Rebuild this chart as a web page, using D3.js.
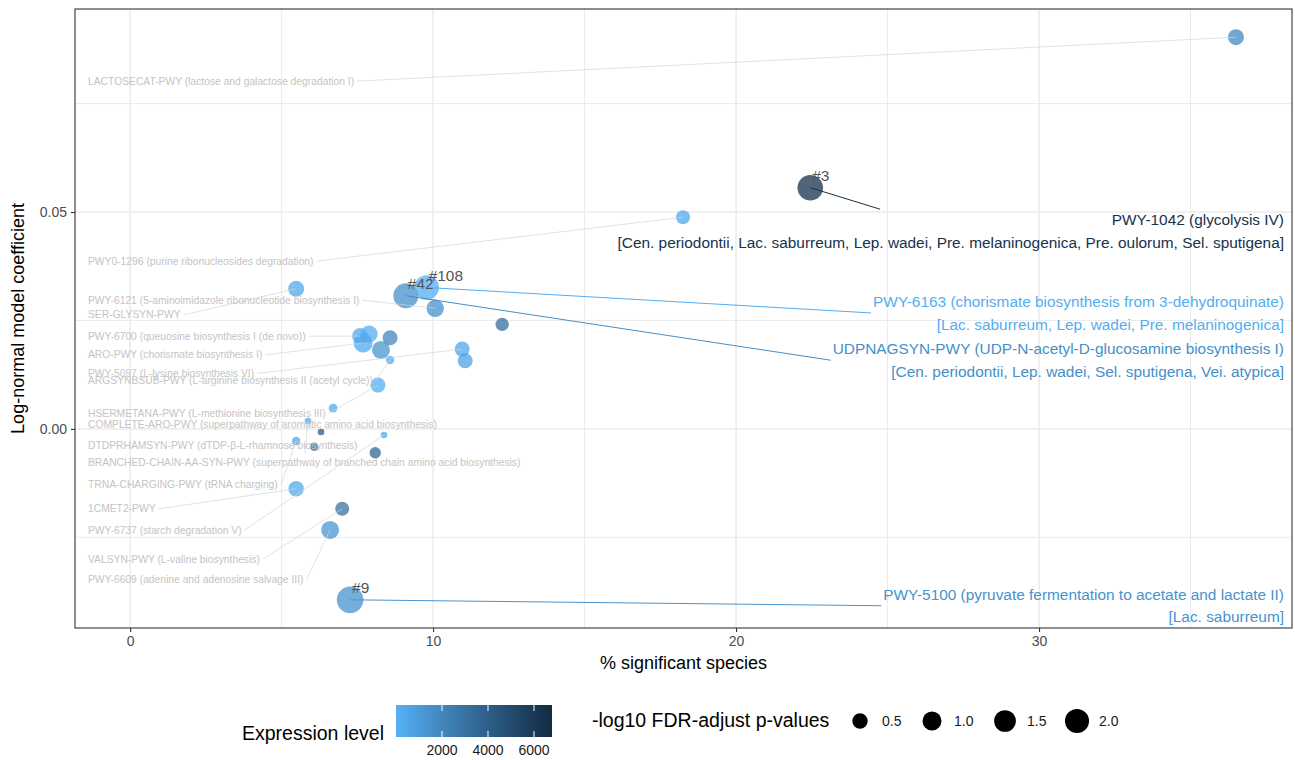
<!DOCTYPE html>
<html lang="en">
<head>
<meta charset="UTF-8">
<title>Pathway coefficients vs % significant species</title>
<script src="https://cdn.jsdelivr.net/npm/d3@7"></script>
<style>
  body { margin: 0; background: #fff; }
  svg { font-family: "Liberation Sans", Arial, Helvetica, sans-serif; }
</style>
</head>
<body>
<svg id="chart" width="1295" height="760"></svg>
<script>
// one entry per pathway (empty name = point without a label)
const pathway = ["LACTOSECAT-PWY", "PWY-1042", "PWY0-1296", "SER-GLYSYN-PWY", "UDPNAGSYN-PWY",
  "PWY-6163", "PWY-6121", "", "PWY-6700", "", "ARO-PWY", "", "", "ARGSYNBSUB-PWY", "PWY-5097", "",
  "HSERMETANA-PWY", "COMPLETE-ARO-PWY", "BRANCHED-CHAIN-AA-SYN-PWY", "", "TRNA-CHARGING-PWY",
  "DTDPRHAMSYN-PWY", "PWY-6737", "", "1CMET2-PWY", "VALSYN-PWY", "PWY-6609", "PWY-5100"];
const description = ["lactose and galactose degradation I", "glycolysis IV", "purine ribonucleosides degradation", "",
  "UDP-N-acetyl-D-glucosamine biosynthesis I", "chorismate biosynthesis from 3-dehydroquinate",
  "5-aminoimidazole ribonucleotide biosynthesis I", "", "queuosine biosynthesis I (de novo)", "",
  "chorismate biosynthesis I", "", "", "L-arginine biosynthesis II (acetyl cycle)", "L-lysine biosynthesis VI", "",
  "L-methionine biosynthesis III", "superpathway of aromatic amino acid biosynthesis",
  "superpathway of branched chain amino acid biosynthesis", "", "tRNA charging", "dTDP-\u03b2-L-rhamnose biosynthesis",
  "starch degradation V", "", "", "L-valine biosynthesis", "adenine and adenosine salvage III",
  "pyruvate fermentation to acetate and lactate II"];
const pctSpecies = [36.50, 22.45, 18.25, 5.48, 9.10, 9.79, 10.07, 12.28, 7.59, 7.89, 7.69, 8.28, 8.58, 8.58,
  10.96, 11.06, 8.18, 6.70, 5.87, 6.30, 5.48, 6.07, 8.38, 8.09, 5.48, 7.00, 6.60, 7.26];
const coefficient = [0.0903, 0.0556, 0.0488, 0.0323, 0.0307, 0.0326, 0.0278, 0.0241, 0.0214, 0.0219, 0.0198,
  0.0182, 0.0210, 0.0159, 0.0184, 0.0157, 0.0101, 0.0048, 0.0018, -0.0007, -0.0028, -0.0041, -0.0014, -0.0055,
  -0.0138, -0.0184, -0.0233, -0.0394];
const expression = [1900, 6400, 400, 400, 1600, 200, 1500, 3200, 300, 200, 350, 1300, 2000, 300, 500, 700,
  200, 300, 300, 4200, 500, 3300, 400, 3600, 300, 3000, 1300, 1400];
const negLogFdr = [0.58, 2.36, 0.36, 0.58, 2.22, 2.12, 0.76, 0.30, 0.58, 0.71, 1.01, 0.85, 0.46, 0.02, 0.46, 0.46,
  0.46, 0.03, 0.00, 0.00, 0.02, 0.02, 0.00, 0.15, 0.51, 0.36, 0.85, 2.62];
// label height (in coefficient units) for the grey labels on the left, null = none / highlighted
const labelCoef = [0.0802, null, 0.0387, 0.0263, null, null, 0.0297, null, 0.0214, null, 0.0171, null, null,
  0.0111, 0.0128, null, 0.0036, 0.0011, -0.0078, null, -0.0129, -0.0037, -0.0233, null, -0.0184, -0.0300,
  -0.0348, null];

// highlighted pathways on the right
const hlPathway = ["PWY-1042", "PWY-6163", "UDPNAGSYN-PWY", "PWY-5100"];
const hlRank = ["#3", "#108", "#42", "#9"];
const hlCoef = [0.0482, 0.0293, 0.0184, -0.0382];
const hlSpecies = [
  "[Cen. periodontii, Lac. saburreum, Lep. wadei, Pre. melaninogenica, Pre. oulorum, Sel. sputigena]",
  "[Lac. saburreum, Lep. wadei, Pre. melaninogenica]",
  "[Cen. periodontii, Lep. wadei, Sel. sputigena, Vei. atypica]",
  "[Lac. saburreum]"];

const xTicks = [0, 10, 20, 30];
const yTicks = [0, 0.05];
const exprTicks = [2000, 4000, 6000];
const sizeTicks = [0.5, 1.0, 1.5, 2.0];

const data = pathway.map((p, i) => ({
  pathway: p, description: description[i], pct: pctSpecies[i], coef: coefficient[i],
  expr: expression[i], p: negLogFdr[i], labelCoef: labelCoef[i]
}));

const svg = d3.select("#chart");
const panel = { left: 75, right: 1292, top: 9, bottom: 628 };

const x = d3.scaleLinear().domain([-1.82, 38.35]).range([panel.left, panel.right]);
const y = d3.scaleLinear().domain([-0.0459, 0.0968]).range([panel.bottom, panel.top]);
const color = d3.scaleLinear().domain([0, 6783]).range(["#56B1F7", "#132B43"]).interpolate(d3.interpolateLab);
const size = d3.scaleSqrt().domain([0, 3]).range([3.3, 14]);

// grid
const grid = svg.append("g");
grid.selectAll(".xminor").data([5, 15, 25, 35]).join("line")
  .attr("x1", d => x(d)).attr("x2", d => x(d)).attr("y1", panel.top).attr("y2", panel.bottom)
  .attr("stroke", "#ebebeb").attr("stroke-width", 1);
grid.selectAll(".yminor").data([-0.025, 0.025, 0.075]).join("line")
  .attr("y1", d => y(d)).attr("y2", d => y(d)).attr("x1", panel.left).attr("x2", panel.right)
  .attr("stroke", "#ebebeb").attr("stroke-width", 1);
grid.selectAll(".xmajor").data(xTicks).join("line")
  .attr("x1", d => x(d)).attr("x2", d => x(d)).attr("y1", panel.top).attr("y2", panel.bottom)
  .attr("stroke", "#ebebeb").attr("stroke-width", 1.5);
grid.selectAll(".ymajor").data(yTicks).join("line")
  .attr("y1", d => y(d)).attr("y2", d => y(d)).attr("x1", panel.left).attr("x2", panel.right)
  .attr("stroke", "#ebebeb").attr("stroke-width", 1.5);

// points
svg.append("g").selectAll("circle").data(data).join("circle")
  .attr("cx", d => x(d.pct)).attr("cy", d => y(d.coef)).attr("r", d => size(d.p))
  .attr("fill", d => color(d.expr)).attr("fill-opacity", 0.75);

// helper: where a repel segment leaves the label box (null when the point sits on the box)
function edgeAnchor(b, px, py, pad) {
  const x0 = b.x - pad, x1 = b.x + b.width + pad, y0 = b.y - pad, y1 = b.y + b.height + pad;
  const near = 10;
  if (px > x0 - near && px < x1 + near && py > y0 - near && py < y1 + near) return null;
  const cx = (x0 + x1) / 2, cy = (y0 + y1) / 2;
  const sides = [[x0, cy], [x1, cy], [cx, y0], [cx, y1]];
  const best = sides.reduce((a, c) => (Math.hypot(c[0] - px, c[1] - py) < Math.hypot(a[0] - px, a[1] - py) ? c : a));
  if (best[0] === cx) {
    // top / bottom edge: follow the line from the box centre to the point
    const ey = best[1];
    return [cx + (px - cx) * (ey - cy) / (py - cy), ey];
  }
  return best;
}

// grey labels on the left
const leftX = x.invert(88);
const segLayer = svg.append("g");
const labLayer = svg.append("g");
data.filter(d => d.labelCoef !== null).forEach(d => {
  const t = labLayer.append("text")
    .attr("x", x(leftX)).attr("y", y(d.labelCoef)).attr("dy", "0.35em")
    .attr("font-size", 10.3).attr("fill", "#c4c4c4")
    .text(d.description ? `${d.pathway} (${d.description})` : d.pathway);
  const a = edgeAnchor(t.node().getBBox(), x(d.pct), y(d.coef), 3);
  if (a) segLayer.append("line")
    .attr("x1", a[0]).attr("y1", a[1]).attr("x2", x(d.pct)).attr("y2", y(d.coef))
    .attr("stroke", "#d4d4d4").attr("stroke-width", 0.7);
});

// highlighted labels on the right
const rightX = x.invert(1284);
hlPathway.forEach((p, i) => {
  const d = data.find(e => e.pathway === p);
  const c = color(d.expr);
  const g = svg.append("g");
  g.append("text").attr("x", x(rightX)).attr("y", y(hlCoef[i])).attr("dy", "0.35em")
    .attr("text-anchor", "end").attr("font-size", 15.4).attr("fill", c)
    .text(`${d.pathway} (${d.description})`);
  g.append("text").attr("x", x(rightX)).attr("y", y(hlCoef[i]) + 22.5).attr("dy", "0.35em")
    .attr("text-anchor", "end").attr("font-size", 15.4).attr("fill", c)
    .text(hlSpecies[i]);
  const a = edgeAnchor(g.node().getBBox(), x(d.pct), y(d.coef), 2);
  if (a) svg.append("line")
    .attr("x1", a[0]).attr("y1", a[1]).attr("x2", x(d.pct)).attr("y2", y(d.coef))
    .attr("stroke", c).attr("stroke-width", 1);
  svg.append("text").attr("x", x(d.pct) + 2).attr("y", y(d.coef) - 6.5)
    .attr("font-size", 15.4).attr("fill", "#555555").text(hlRank[i]);
});

// panel border
svg.append("rect").attr("x", panel.left).attr("y", panel.top)
  .attr("width", panel.right - panel.left).attr("height", panel.bottom - panel.top)
  .attr("fill", "none").attr("stroke", "#333333").attr("stroke-width", 1.1);

// axes
const xAxis = svg.append("g").attr("transform", `translate(0,${panel.bottom})`)
  .call(d3.axisBottom(x).tickValues(xTicks).tickSize(4).tickPadding(4).tickFormat(d3.format("d")));
const yAxis = svg.append("g").attr("transform", `translate(${panel.left},0)`)
  .call(d3.axisLeft(y).tickValues(yTicks).tickSize(4).tickPadding(4).tickFormat(d3.format(".2f")));
[xAxis, yAxis].forEach(a => {
  a.select(".domain").remove();
  a.selectAll(".tick line").attr("stroke", "#333333").attr("stroke-width", 1.1);
  a.selectAll(".tick text").attr("fill", "#4d4d4d").attr("font-size", 14)
    .attr("font-family", "Liberation Sans, Arial, sans-serif");
});

svg.append("text").attr("x", (panel.left + panel.right) / 2).attr("y", 669)
  .attr("text-anchor", "middle").attr("font-size", 18).text("% significant species");
svg.append("text").attr("transform", `translate(24,${(panel.top + panel.bottom) / 2}) rotate(-90)`)
  .attr("text-anchor", "middle").attr("font-size", 18).text("Log-normal model coefficient");

// colour legend
svg.append("text").attr("x", 242).attr("y", 740).attr("font-size", 19.5).text("Expression level");
const barX = d3.scaleLinear().domain(color.domain()).range([396, 552]);
const grad = svg.append("defs").append("linearGradient").attr("id", "exprGrad");
d3.range(0, 1.0001, 0.1).forEach(t => {
  grad.append("stop").attr("offset", t).attr("stop-color", color(color.domain()[0] + t * color.domain()[1]));
});
svg.append("rect").attr("x", 396).attr("y", 705).attr("width", 156).attr("height", 32).attr("fill", "url(#exprGrad)");
exprTicks.forEach(v => {
  svg.append("line").attr("x1", barX(v)).attr("x2", barX(v)).attr("y1", 705).attr("y2", 711)
    .attr("stroke", "#fff").attr("stroke-width", 1);
  svg.append("line").attr("x1", barX(v)).attr("x2", barX(v)).attr("y1", 731).attr("y2", 737)
    .attr("stroke", "#fff").attr("stroke-width", 1);
  svg.append("text").attr("x", barX(v)).attr("y", 755).attr("text-anchor", "middle")
    .attr("font-size", 14).attr("fill", "#1a1a1a").text(v);
});

// size legend
svg.append("text").attr("x", 592).attr("y", 727).attr("font-size", 19.5).text("-log10 FDR-adjust p-values");
const keyX = [860, 932, 1005, 1077];
sizeTicks.forEach((v, i) => {
  svg.append("circle").attr("cx", keyX[i]).attr("cy", 721).attr("r", size(v)).attr("fill", "#000");
  svg.append("text").attr("x", keyX[i] + 22).attr("y", 726).attr("font-size", 14).attr("fill", "#1a1a1a")
    .text(d3.format(".1f")(v));
});
</script>
</body>
</html>
